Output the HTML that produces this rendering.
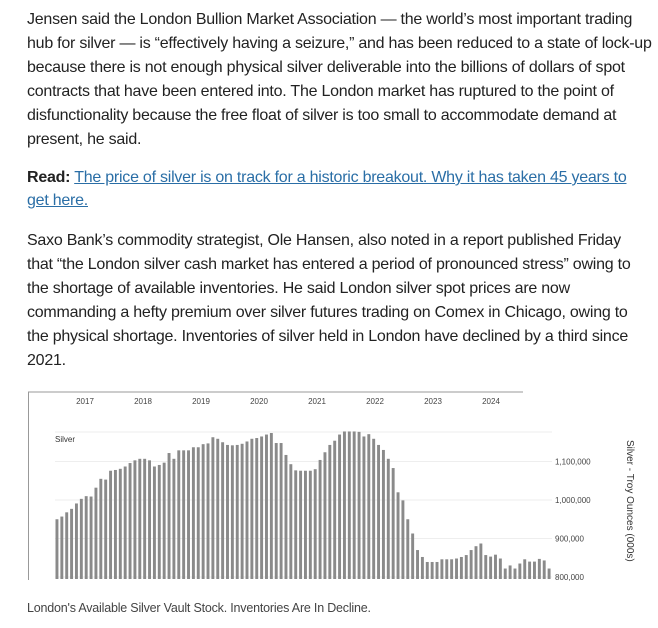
<!DOCTYPE html>
<html><head><meta charset="utf-8"><style>
body{margin:0;width:658px;height:628px;background:#fff;position:relative;overflow:hidden;font-family:"Liberation Sans",sans-serif;}
.l{position:absolute;left:27px;white-space:nowrap;font-size:16px;letter-spacing:-0.24px;color:#222;line-height:20px;}
a{color:#2a6ea6;text-decoration:underline;}
#cap{position:absolute;left:27px;top:601px;font-size:12.5px;color:#444;letter-spacing:-0.2px;}
</style></head><body>
<div>
<div class="l" style="top:10px">Jensen said the London Bullion Market Association — the world’s most important trading</div>
<div class="l" style="top:34px">hub for silver — is “effectively having a seizure,” and has been reduced to a state of lock-up</div>
<div class="l" style="top:58px">because there is not enough physical silver deliverable into the billions of dollars of spot</div>
<div class="l" style="top:82px">contracts that have been entered into. The London market has ruptured to the point of</div>
<div class="l" style="top:106px">disfunctionality because the free float of silver is too small to accommodate demand at</div>
<div class="l" style="top:130px">present, he said.</div>
</div>
<div>
<div class="l" style="top:168px"><b>Read:</b> <a>The price of silver is on track for a historic breakout. Why it has taken 45 years to</a></div>
<div class="l" style="top:191px"><a>get here.</a></div>
</div>
<div>
<div class="l" style="top:231px">Saxo Bank’s commodity strategist, Ole Hansen, also noted in a report published Friday</div>
<div class="l" style="top:255px">that “the London silver cash market has entered a period of pronounced stress” owing to</div>
<div class="l" style="top:279px">the shortage of available inventories. He said London silver spot prices are now</div>
<div class="l" style="top:303px">commanding a hefty premium over silver futures trading on Comex in Chicago, owing to</div>
<div class="l" style="top:327px">the physical shortage. Inventories of silver held in London have declined by a third since</div>
<div class="l" style="top:351px">2021.</div>
</div>
<svg id="chart" style="position:absolute;left:0;top:0" width="658" height="628" font-family="Liberation Sans, sans-serif"></svg>
<div id="cap">London's Available Silver Vault Stock. Inventories Are In Decline.</div>
<script>
const years=["2017","2018","2019","2020","2021","2022","2023","2024"];
const yTicks=[800000,900000,1000000,1100000];
const values=[950,957,968,977,991,1003,1010,1009,1032,1055,1053,1076,1078,1081,1087,1096,1103,1107,1107,1103,1087,1091,1097,1122,1107,1129,1129,1129,1137,1137,1145,1147,1163,1159,1150,1143,1142,1143,1146,1152,1159,1161,1165,1170,1174,1148,1148,1117,1093,1077,1076,1076,1076,1080,1104,1124,1143,1154,1170,1178,1178,1178,1177,1165,1171,1159,1143,1130,1107,1083,1020,999,950,913,870,852,839,839,839,846,846,846,848,852,857,870,880,887,857,853,858,848,822,830,822,835,846,840,840,847,843,822];
const svg=document.getElementById('chart');const NS='http://www.w3.org/2000/svg';
function mk(t,a,p){const e=document.createElementNS(NS,t);for(const k in a)e.setAttribute(k,a[k]);(p||svg).appendChild(e);return e;}
const x0=55,x1=552,yBase=577,pxPer=38.5/100000;
const yS=v=>yBase-(v-800000)*pxPer;
const xYear=i=>85+i*58;
let e;
e=mk('line',{x1:28,y1:392,x2:523,y2:392,stroke:'#999','stroke-width':1});


e=mk('line',{x1:28.5,y1:392,x2:28.5,y2:580,stroke:'#999','stroke-width':1});


e=mk('line',{x1:55,y1:432,x2:552,y2:432,stroke:'#eee'});


years.forEach((y,i)=>{const t=mk('text',{x:xYear(i),y:404,'font-size':8,fill:'#444','text-anchor':'middle'});t.textContent=y;

});
yTicks.forEach(v=>{const g=mk('line',{x1:x0,x2:x1,y1:yS(v),y2:yS(v),stroke:'#eee'});


const t=mk('text',{x:555,y:yS(v)+3,'font-size':8,fill:'#444'});t.textContent=v.toLocaleString('en-US');

});
const step=(x1-x0)/values.length;
values.forEach((v,i)=>{const top=yS(v*1000);const r=mk('rect',{x:x0+i*step+0.5,y:top,width:step*0.6,height:yBase+2-top,fill:'#8a8a8a'});

});
e=mk('text',{x:55,y:442,'font-size':8,fill:'#333'});e.textContent='Silver';


e=mk('text',{x:0,y:0,'font-size':10,fill:'#333',transform:'translate(627,440) rotate(90)'});e.textContent='Silver - Troy Ounces (000s)';


</script>
</body></html>
